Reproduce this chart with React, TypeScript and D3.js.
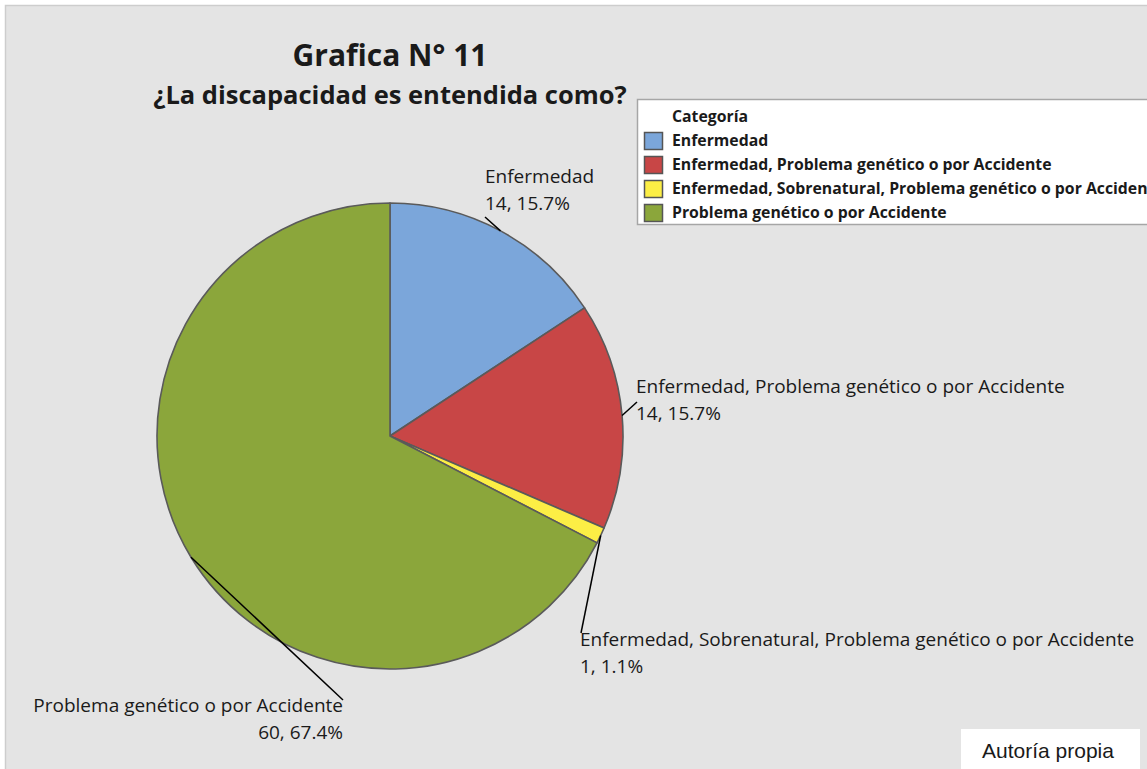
import * as d3 from "d3";

const categories = [
  "Enfermedad",
  "Enfermedad, Problema genético o por Accidente",
  "Enfermedad, Sobrenatural, Problema genético o por Accidente",
  "Problema genético o por Accidente",
];
const counts = [14, 14, 1, 60];
const percentLabels = ["15.7%", "15.7%", "1.1%", "67.4%"];
const sliceColors = ["#7ba6da", "#c84646", "#fcee45", "#8ba63b"];

// where each slice label sits (anchor of its leader line), and text alignment
const labelLayout = [
  { x: 485, y: 217, tx: 485, ty: 183, anchor: "start" },
  { x: 637, y: 402, tx: 636, ty: 393, anchor: "start" },
  { x: 581, y: 633, tx: 580, ty: 646, anchor: "start" },
  { x: 343, y: 700, tx: 343, ty: 712, anchor: "end" },
];

const width = 1147;
const height = 769;
const cx = 390;
const cy = 436;
const radius = 233;
const font = "'Open Sans', 'Noto Sans', sans-serif";

export default function App() {
  const pie = d3
    .pie<number>()
    .sort(null)
    .startAngle(0)
    .endAngle(2 * Math.PI)
    .value((d) => d);
  const arcs = pie(counts);
  const arc = d3.arc<d3.PieArcDatum<number>>().innerRadius(0).outerRadius(radius);

  return (
    <>
      <style>{`body{margin:0}`}</style>
      <svg width={width} height={height} style={{ display: "block" }}>
        <rect x={0} y={0} width={width} height={height} fill="#ffffff" />
        <rect
          x={5.5}
          y={5.5}
          width={width}
          height={height}
          fill="#e4e4e4"
          stroke="#cdcdcd"
          strokeWidth={1.5}
        />

        <text
          x={cx}
          y={66}
          textAnchor="middle"
          fontFamily={font}
          fontWeight="bold"
          fontSize={30}
          fill="#1a1a1a"
        >
          Grafica N° 11
        </text>
        <text
          x={cx}
          y={104}
          textAnchor="middle"
          fontFamily={font}
          fontWeight="bold"
          fontSize={25.5}
          fill="#1a1a1a"
        >
          ¿La discapacidad es entendida como?
        </text>

        <g transform={`translate(${cx},${cy})`}>
          {arcs.map((a, i) => (
            <path
              key={categories[i]}
              d={arc(a) ?? ""}
              fill={sliceColors[i]}
              stroke="#5a5a5a"
              strokeWidth={1.6}
              strokeLinejoin="round"
            />
          ))}
        </g>

        {arcs.map((a, i) => {
          const mid = (a.startAngle + a.endAngle) / 2;
          const [px, py] = d3.pointRadial(mid, radius);
          const l = labelLayout[i];
          return (
            <g key={`lbl-${i}`}>
              <line
                x1={cx + px}
                y1={cy + py}
                x2={l.x}
                y2={l.y}
                stroke="#000"
                strokeWidth={1.5}
              />
              <text
                x={l.tx}
                y={l.ty}
                textAnchor={l.anchor}
                fontFamily={font}
                fontSize={19}
                fill="#1a1a1a"
              >
                <tspan x={l.tx}>{categories[i]}</tspan>
                <tspan x={l.tx} dy={27}>
                  {`${a.data}, ${percentLabels[i]}`}
                </tspan>
              </text>
            </g>
          );
        })}

        <g>
          <rect
            x={637.5}
            y={99.5}
            width={width}
            height={125}
            fill="#ffffff"
            stroke="#a6a6a6"
            strokeWidth={1.5}
          />
          <text
            x={672}
            y={122}
            fontFamily={font}
            fontWeight="bold"
            fontSize={15.8}
            fill="#1a1a1a"
          >
            Categoría
          </text>
          {categories.map((c, i) => (
            <g key={`leg-${c}`}>
              <rect
                x={644.5}
                y={132.5 + i * 24}
                width={18}
                height={17}
                fill={sliceColors[i]}
                stroke="#555"
                strokeWidth={1.5}
              />
              <text
                x={672}
                y={146 + i * 24}
                fontFamily={font}
                fontWeight="bold"
                fontSize={15.8}
                fill="#1a1a1a"
              >
                {c}
              </text>
            </g>
          ))}
        </g>

        <rect x={961} y={729} width={179} height={45} fill="#ffffff" />
        <text
          x={982}
          y={758}
          fontFamily="'Liberation Sans', Arial, sans-serif"
          fontSize={21}
          fill="#1a1a1a"
        >
          Autoría propia
        </text>
      </svg>
    </>
  );
}
